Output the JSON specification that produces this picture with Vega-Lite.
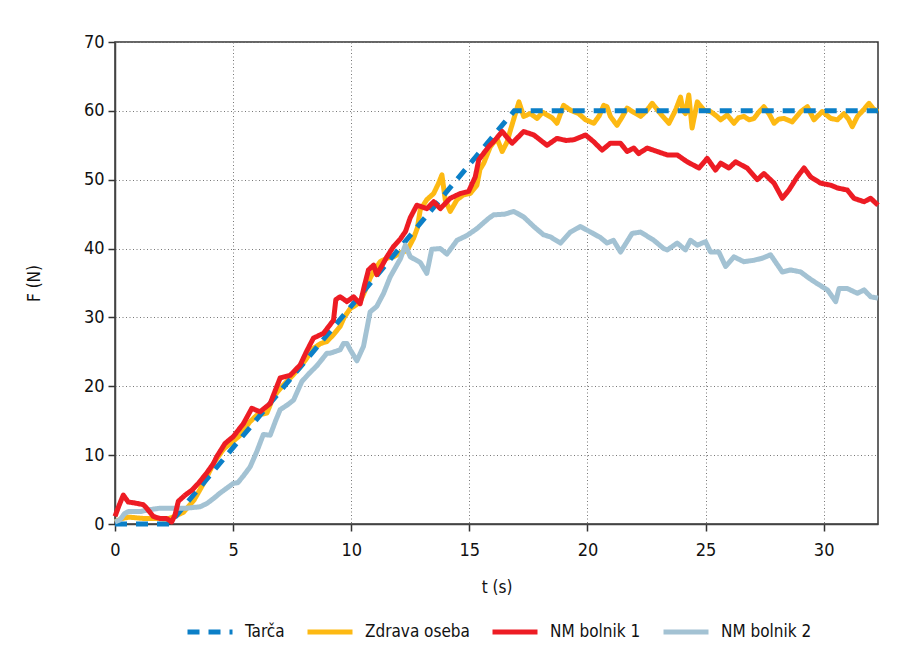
{
  "$schema": "https://vega.github.io/schema/vega-lite/v6.json",
  "width": 763,
  "height": 482,
  "autosize": {"type": "none"},
  "padding": {"left": 115, "top": 42, "right": 27, "bottom": 141},
  "background": "white",
  "config": {
    "font": "DejaVu Sans Condensed",
    "view": {"stroke": "#333333", "strokeWidth": 1.5},
    "axis": {
      "labelFont": "DejaVu Sans Condensed",
      "titleFont": "DejaVu Sans Condensed",
      "labelFontSize": 18,
      "titleFontSize": 17,
      "titleFontWeight": "normal",
      "labelColor": "#111111",
      "titleColor": "#111111",
      "tickColor": "#333333",
      "tickSize": 7,
      "tickWidth": 1.5,
      "domainColor": "#444444",
      "domainWidth": 1.5,
      "gridColor": "#777777",
      "gridDash": [1, 2.5],
      "gridWidth": 1,
      "labelFlush": false
    },
    "legend": {
      "labelFont": "DejaVu Sans Condensed",
      "labelFontSize": 17,
      "labelColor": "#111111"
    }
  },
  "data": {
    "values": [
      {"s": "Tarča", "t": 0, "F": 0}, {"s": "Tarča", "t": 2.3, "F": 0}, {"s": "Tarča", "t": 16.9, "F": 60}, {"s": "Tarča", "t": 32.3, "F": 60},

      {"s": "Zdrava oseba", "t": 0, "F": 0.3}, {"s": "Zdrava oseba", "t": 0.3, "F": 0.8}, {"s": "Zdrava oseba", "t": 0.6, "F": 1.0}, {"s": "Zdrava oseba", "t": 1.2, "F": 0.8}, {"s": "Zdrava oseba", "t": 1.8, "F": 0.8}, {"s": "Zdrava oseba", "t": 2.2, "F": 0.7}, {"s": "Zdrava oseba", "t": 2.45, "F": 1.0}, {"s": "Zdrava oseba", "t": 2.9, "F": 1.7}, {"s": "Zdrava oseba", "t": 3.35, "F": 3.5}, {"s": "Zdrava oseba", "t": 3.75, "F": 5.9}, {"s": "Zdrava oseba", "t": 4.17, "F": 8.8}, {"s": "Zdrava oseba", "t": 4.6, "F": 10.9}, {"s": "Zdrava oseba", "t": 5.0, "F": 12.0}, {"s": "Zdrava oseba", "t": 5.3, "F": 12.9}, {"s": "Zdrava oseba", "t": 5.7, "F": 14.8}, {"s": "Zdrava oseba", "t": 6.0, "F": 15.8}, {"s": "Zdrava oseba", "t": 6.43, "F": 16.1}, {"s": "Zdrava oseba", "t": 6.71, "F": 18.5}, {"s": "Zdrava oseba", "t": 7.13, "F": 20.2}, {"s": "Zdrava oseba", "t": 7.5, "F": 21.5}, {"s": "Zdrava oseba", "t": 7.84, "F": 22.8}, {"s": "Zdrava oseba", "t": 8.1, "F": 24.0}, {"s": "Zdrava oseba", "t": 8.4, "F": 25.5}, {"s": "Zdrava oseba", "t": 8.7, "F": 26.2}, {"s": "Zdrava oseba", "t": 8.97, "F": 26.5}, {"s": "Zdrava oseba", "t": 9.25, "F": 27.5}, {"s": "Zdrava oseba", "t": 9.53, "F": 28.7}, {"s": "Zdrava oseba", "t": 9.7, "F": 30.0}, {"s": "Zdrava oseba", "t": 9.96, "F": 31.3}, {"s": "Zdrava oseba", "t": 10.2, "F": 31.8}, {"s": "Zdrava oseba", "t": 10.38, "F": 32.3}, {"s": "Zdrava oseba", "t": 10.6, "F": 34.0}, {"s": "Zdrava oseba", "t": 10.8, "F": 35.7}, {"s": "Zdrava oseba", "t": 11.0, "F": 37.0}, {"s": "Zdrava oseba", "t": 11.23, "F": 38.1}, {"s": "Zdrava oseba", "t": 11.5, "F": 38.6}, {"s": "Zdrava oseba", "t": 11.79, "F": 38.8}, {"s": "Zdrava oseba", "t": 12.08, "F": 39.4}, {"s": "Zdrava oseba", "t": 12.36, "F": 39.7}, {"s": "Zdrava oseba", "t": 12.64, "F": 41.5}, {"s": "Zdrava oseba", "t": 12.8, "F": 43.0}, {"s": "Zdrava oseba", "t": 12.92, "F": 45.6}, {"s": "Zdrava oseba", "t": 13.2, "F": 47.1}, {"s": "Zdrava oseba", "t": 13.49, "F": 48.0}, {"s": "Zdrava oseba", "t": 13.7, "F": 49.5}, {"s": "Zdrava oseba", "t": 13.84, "F": 50.7}, {"s": "Zdrava oseba", "t": 13.98, "F": 47.1}, {"s": "Zdrava oseba", "t": 14.19, "F": 45.4}, {"s": "Zdrava oseba", "t": 14.48, "F": 47.1}, {"s": "Zdrava oseba", "t": 14.75, "F": 47.8}, {"s": "Zdrava oseba", "t": 15.04, "F": 48.0}, {"s": "Zdrava oseba", "t": 15.32, "F": 49.2}, {"s": "Zdrava oseba", "t": 15.45, "F": 51.5}, {"s": "Zdrava oseba", "t": 15.61, "F": 52.4}, {"s": "Zdrava oseba", "t": 15.89, "F": 54.8}, {"s": "Zdrava oseba", "t": 16.17, "F": 56.0}, {"s": "Zdrava oseba", "t": 16.39, "F": 54.1}, {"s": "Zdrava oseba", "t": 16.6, "F": 55.5}, {"s": "Zdrava oseba", "t": 16.74, "F": 57.2}, {"s": "Zdrava oseba", "t": 16.95, "F": 59.6}, {"s": "Zdrava oseba", "t": 17.1, "F": 61.3}, {"s": "Zdrava oseba", "t": 17.3, "F": 59.2}, {"s": "Zdrava oseba", "t": 17.58, "F": 59.6}, {"s": "Zdrava oseba", "t": 17.87, "F": 58.9}, {"s": "Zdrava oseba", "t": 18.1, "F": 59.8}, {"s": "Zdrava oseba", "t": 18.29, "F": 59.4}, {"s": "Zdrava oseba", "t": 18.5, "F": 59.0}, {"s": "Zdrava oseba", "t": 18.71, "F": 58.2}, {"s": "Zdrava oseba", "t": 18.85, "F": 59.5}, {"s": "Zdrava oseba", "t": 18.99, "F": 60.8}, {"s": "Zdrava oseba", "t": 19.28, "F": 60.1}, {"s": "Zdrava oseba", "t": 19.63, "F": 59.6}, {"s": "Zdrava oseba", "t": 19.92, "F": 58.7}, {"s": "Zdrava oseba", "t": 20.27, "F": 58.2}, {"s": "Zdrava oseba", "t": 20.5, "F": 59.3}, {"s": "Zdrava oseba", "t": 20.69, "F": 60.8}, {"s": "Zdrava oseba", "t": 20.83, "F": 60.6}, {"s": "Zdrava oseba", "t": 20.97, "F": 59.2}, {"s": "Zdrava oseba", "t": 21.25, "F": 57.9}, {"s": "Zdrava oseba", "t": 21.45, "F": 59.0}, {"s": "Zdrava oseba", "t": 21.68, "F": 60.4}, {"s": "Zdrava oseba", "t": 21.95, "F": 59.8}, {"s": "Zdrava oseba", "t": 22.25, "F": 59.2}, {"s": "Zdrava oseba", "t": 22.5, "F": 60.0}, {"s": "Zdrava oseba", "t": 22.74, "F": 61.1}, {"s": "Zdrava oseba", "t": 23.09, "F": 59.6}, {"s": "Zdrava oseba", "t": 23.45, "F": 58.2}, {"s": "Zdrava oseba", "t": 23.73, "F": 60.1}, {"s": "Zdrava oseba", "t": 23.94, "F": 62.0}, {"s": "Zdrava oseba", "t": 24.05, "F": 60.0}, {"s": "Zdrava oseba", "t": 24.15, "F": 59.6}, {"s": "Zdrava oseba", "t": 24.29, "F": 62.3}, {"s": "Zdrava oseba", "t": 24.43, "F": 57.5}, {"s": "Zdrava oseba", "t": 24.65, "F": 61.3}, {"s": "Zdrava oseba", "t": 24.93, "F": 60.1}, {"s": "Zdrava oseba", "t": 25.21, "F": 59.9}, {"s": "Zdrava oseba", "t": 25.45, "F": 59.3}, {"s": "Zdrava oseba", "t": 25.64, "F": 58.7}, {"s": "Zdrava oseba", "t": 25.92, "F": 59.4}, {"s": "Zdrava oseba", "t": 26.2, "F": 58.2}, {"s": "Zdrava oseba", "t": 26.4, "F": 59.0}, {"s": "Zdrava oseba", "t": 26.62, "F": 59.2}, {"s": "Zdrava oseba", "t": 26.85, "F": 58.7}, {"s": "Zdrava oseba", "t": 27.05, "F": 58.9}, {"s": "Zdrava oseba", "t": 27.25, "F": 59.8}, {"s": "Zdrava oseba", "t": 27.47, "F": 60.6}, {"s": "Zdrava oseba", "t": 27.7, "F": 59.5}, {"s": "Zdrava oseba", "t": 27.9, "F": 58.2}, {"s": "Zdrava oseba", "t": 28.1, "F": 58.8}, {"s": "Zdrava oseba", "t": 28.32, "F": 58.9}, {"s": "Zdrava oseba", "t": 28.67, "F": 58.4}, {"s": "Zdrava oseba", "t": 29.03, "F": 59.9}, {"s": "Zdrava oseba", "t": 29.31, "F": 60.6}, {"s": "Zdrava oseba", "t": 29.59, "F": 58.7}, {"s": "Zdrava oseba", "t": 29.94, "F": 59.9}, {"s": "Zdrava oseba", "t": 30.3, "F": 58.9}, {"s": "Zdrava oseba", "t": 30.58, "F": 58.7}, {"s": "Zdrava oseba", "t": 30.86, "F": 59.6}, {"s": "Zdrava oseba", "t": 31.05, "F": 58.8}, {"s": "Zdrava oseba", "t": 31.21, "F": 57.7}, {"s": "Zdrava oseba", "t": 31.43, "F": 59.2}, {"s": "Zdrava oseba", "t": 31.7, "F": 60.2}, {"s": "Zdrava oseba", "t": 31.92, "F": 61.1}, {"s": "Zdrava oseba", "t": 32.1, "F": 60.3}, {"s": "Zdrava oseba", "t": 32.3, "F": 59.9},

      {"s": "NM bolnik 1", "t": 0, "F": 1.1}, {"s": "NM bolnik 1", "t": 0.15, "F": 2.5}, {"s": "NM bolnik 1", "t": 0.35, "F": 4.2}, {"s": "NM bolnik 1", "t": 0.56, "F": 3.2}, {"s": "NM bolnik 1", "t": 0.75, "F": 3.1}, {"s": "NM bolnik 1", "t": 0.92, "F": 3.0}, {"s": "NM bolnik 1", "t": 1.2, "F": 2.8}, {"s": "NM bolnik 1", "t": 1.34, "F": 2.3}, {"s": "NM bolnik 1", "t": 1.62, "F": 1.1}, {"s": "NM bolnik 1", "t": 1.9, "F": 0.8}, {"s": "NM bolnik 1", "t": 2.19, "F": 0.8}, {"s": "NM bolnik 1", "t": 2.4, "F": 0.3}, {"s": "NM bolnik 1", "t": 2.54, "F": 1.3}, {"s": "NM bolnik 1", "t": 2.68, "F": 3.3}, {"s": "NM bolnik 1", "t": 2.97, "F": 4.2}, {"s": "NM bolnik 1", "t": 3.25, "F": 4.9}, {"s": "NM bolnik 1", "t": 3.53, "F": 5.9}, {"s": "NM bolnik 1", "t": 3.88, "F": 7.4}, {"s": "NM bolnik 1", "t": 4.17, "F": 8.8}, {"s": "NM bolnik 1", "t": 4.31, "F": 9.8}, {"s": "NM bolnik 1", "t": 4.66, "F": 11.7}, {"s": "NM bolnik 1", "t": 5.01, "F": 12.7}, {"s": "NM bolnik 1", "t": 5.44, "F": 14.6}, {"s": "NM bolnik 1", "t": 5.79, "F": 16.8}, {"s": "NM bolnik 1", "t": 6.14, "F": 16.3}, {"s": "NM bolnik 1", "t": 6.57, "F": 17.5}, {"s": "NM bolnik 1", "t": 6.99, "F": 21.2}, {"s": "NM bolnik 1", "t": 7.42, "F": 21.6}, {"s": "NM bolnik 1", "t": 7.84, "F": 23.1}, {"s": "NM bolnik 1", "t": 8.1, "F": 25.0}, {"s": "NM bolnik 1", "t": 8.4, "F": 27.0}, {"s": "NM bolnik 1", "t": 8.83, "F": 27.7}, {"s": "NM bolnik 1", "t": 9.25, "F": 29.6}, {"s": "NM bolnik 1", "t": 9.35, "F": 32.6}, {"s": "NM bolnik 1", "t": 9.53, "F": 33.0}, {"s": "NM bolnik 1", "t": 9.82, "F": 32.3}, {"s": "NM bolnik 1", "t": 10.1, "F": 33.0}, {"s": "NM bolnik 1", "t": 10.38, "F": 32.0}, {"s": "NM bolnik 1", "t": 10.55, "F": 34.5}, {"s": "NM bolnik 1", "t": 10.73, "F": 36.9}, {"s": "NM bolnik 1", "t": 10.95, "F": 37.6}, {"s": "NM bolnik 1", "t": 11.08, "F": 36.2}, {"s": "NM bolnik 1", "t": 11.3, "F": 37.5}, {"s": "NM bolnik 1", "t": 11.51, "F": 38.8}, {"s": "NM bolnik 1", "t": 11.79, "F": 40.3}, {"s": "NM bolnik 1", "t": 12.08, "F": 41.4}, {"s": "NM bolnik 1", "t": 12.3, "F": 42.5}, {"s": "NM bolnik 1", "t": 12.5, "F": 44.5}, {"s": "NM bolnik 1", "t": 12.78, "F": 46.3}, {"s": "NM bolnik 1", "t": 13.2, "F": 45.8}, {"s": "NM bolnik 1", "t": 13.49, "F": 46.8}, {"s": "NM bolnik 1", "t": 13.77, "F": 45.8}, {"s": "NM bolnik 1", "t": 14.19, "F": 47.3}, {"s": "NM bolnik 1", "t": 14.62, "F": 48.0}, {"s": "NM bolnik 1", "t": 14.97, "F": 48.3}, {"s": "NM bolnik 1", "t": 15.25, "F": 50.4}, {"s": "NM bolnik 1", "t": 15.4, "F": 52.9}, {"s": "NM bolnik 1", "t": 15.82, "F": 54.8}, {"s": "NM bolnik 1", "t": 16.1, "F": 55.8}, {"s": "NM bolnik 1", "t": 16.39, "F": 57.0}, {"s": "NM bolnik 1", "t": 16.81, "F": 55.3}, {"s": "NM bolnik 1", "t": 17.3, "F": 57.0}, {"s": "NM bolnik 1", "t": 17.73, "F": 56.5}, {"s": "NM bolnik 1", "t": 18.29, "F": 55.0}, {"s": "NM bolnik 1", "t": 18.71, "F": 56.0}, {"s": "NM bolnik 1", "t": 19.1, "F": 55.7}, {"s": "NM bolnik 1", "t": 19.42, "F": 55.8}, {"s": "NM bolnik 1", "t": 19.92, "F": 56.5}, {"s": "NM bolnik 1", "t": 20.27, "F": 55.5}, {"s": "NM bolnik 1", "t": 20.62, "F": 54.3}, {"s": "NM bolnik 1", "t": 20.97, "F": 55.3}, {"s": "NM bolnik 1", "t": 21.4, "F": 55.3}, {"s": "NM bolnik 1", "t": 21.68, "F": 54.1}, {"s": "NM bolnik 1", "t": 21.96, "F": 54.6}, {"s": "NM bolnik 1", "t": 22.17, "F": 53.8}, {"s": "NM bolnik 1", "t": 22.53, "F": 54.6}, {"s": "NM bolnik 1", "t": 22.95, "F": 54.1}, {"s": "NM bolnik 1", "t": 23.38, "F": 53.6}, {"s": "NM bolnik 1", "t": 23.8, "F": 53.6}, {"s": "NM bolnik 1", "t": 24.22, "F": 52.6}, {"s": "NM bolnik 1", "t": 24.72, "F": 51.7}, {"s": "NM bolnik 1", "t": 25.07, "F": 53.1}, {"s": "NM bolnik 1", "t": 25.42, "F": 51.4}, {"s": "NM bolnik 1", "t": 25.64, "F": 52.4}, {"s": "NM bolnik 1", "t": 25.99, "F": 51.7}, {"s": "NM bolnik 1", "t": 26.27, "F": 52.6}, {"s": "NM bolnik 1", "t": 26.76, "F": 51.7}, {"s": "NM bolnik 1", "t": 27.19, "F": 50.0}, {"s": "NM bolnik 1", "t": 27.47, "F": 50.9}, {"s": "NM bolnik 1", "t": 27.9, "F": 49.5}, {"s": "NM bolnik 1", "t": 28.25, "F": 47.3}, {"s": "NM bolnik 1", "t": 28.53, "F": 48.5}, {"s": "NM bolnik 1", "t": 28.88, "F": 50.4}, {"s": "NM bolnik 1", "t": 29.17, "F": 51.7}, {"s": "NM bolnik 1", "t": 29.45, "F": 50.4}, {"s": "NM bolnik 1", "t": 29.87, "F": 49.5}, {"s": "NM bolnik 1", "t": 30.3, "F": 49.2}, {"s": "NM bolnik 1", "t": 30.58, "F": 48.8}, {"s": "NM bolnik 1", "t": 31.0, "F": 48.5}, {"s": "NM bolnik 1", "t": 31.28, "F": 47.3}, {"s": "NM bolnik 1", "t": 31.71, "F": 46.8}, {"s": "NM bolnik 1", "t": 31.99, "F": 47.3}, {"s": "NM bolnik 1", "t": 32.3, "F": 46.3},

      {"s": "NM bolnik 2", "t": 0, "F": 0.3}, {"s": "NM bolnik 2", "t": 0.21, "F": 0.6}, {"s": "NM bolnik 2", "t": 0.4, "F": 1.5}, {"s": "NM bolnik 2", "t": 0.56, "F": 1.8}, {"s": "NM bolnik 2", "t": 1.06, "F": 1.8}, {"s": "NM bolnik 2", "t": 1.5, "F": 2.1}, {"s": "NM bolnik 2", "t": 1.91, "F": 2.3}, {"s": "NM bolnik 2", "t": 2.5, "F": 2.3}, {"s": "NM bolnik 2", "t": 3.04, "F": 2.3}, {"s": "NM bolnik 2", "t": 3.6, "F": 2.5}, {"s": "NM bolnik 2", "t": 3.9, "F": 3.0}, {"s": "NM bolnik 2", "t": 4.17, "F": 3.7}, {"s": "NM bolnik 2", "t": 4.45, "F": 4.5}, {"s": "NM bolnik 2", "t": 4.73, "F": 5.2}, {"s": "NM bolnik 2", "t": 5.01, "F": 5.9}, {"s": "NM bolnik 2", "t": 5.2, "F": 6.0}, {"s": "NM bolnik 2", "t": 5.44, "F": 7.0}, {"s": "NM bolnik 2", "t": 5.72, "F": 8.3}, {"s": "NM bolnik 2", "t": 6.0, "F": 10.5}, {"s": "NM bolnik 2", "t": 6.28, "F": 13.0}, {"s": "NM bolnik 2", "t": 6.57, "F": 12.9}, {"s": "NM bolnik 2", "t": 6.8, "F": 15.0}, {"s": "NM bolnik 2", "t": 6.99, "F": 16.6}, {"s": "NM bolnik 2", "t": 7.3, "F": 17.3}, {"s": "NM bolnik 2", "t": 7.56, "F": 18.0}, {"s": "NM bolnik 2", "t": 7.91, "F": 20.7}, {"s": "NM bolnik 2", "t": 8.2, "F": 21.8}, {"s": "NM bolnik 2", "t": 8.55, "F": 23.0}, {"s": "NM bolnik 2", "t": 8.97, "F": 24.8}, {"s": "NM bolnik 2", "t": 9.11, "F": 24.8}, {"s": "NM bolnik 2", "t": 9.53, "F": 25.3}, {"s": "NM bolnik 2", "t": 9.67, "F": 26.2}, {"s": "NM bolnik 2", "t": 9.82, "F": 26.2}, {"s": "NM bolnik 2", "t": 9.96, "F": 25.3}, {"s": "NM bolnik 2", "t": 10.24, "F": 23.7}, {"s": "NM bolnik 2", "t": 10.52, "F": 25.8}, {"s": "NM bolnik 2", "t": 10.8, "F": 30.8}, {"s": "NM bolnik 2", "t": 11.08, "F": 31.6}, {"s": "NM bolnik 2", "t": 11.37, "F": 33.5}, {"s": "NM bolnik 2", "t": 11.65, "F": 35.9}, {"s": "NM bolnik 2", "t": 12.08, "F": 38.5}, {"s": "NM bolnik 2", "t": 12.29, "F": 40.5}, {"s": "NM bolnik 2", "t": 12.5, "F": 38.8}, {"s": "NM bolnik 2", "t": 12.92, "F": 38.0}, {"s": "NM bolnik 2", "t": 13.2, "F": 36.4}, {"s": "NM bolnik 2", "t": 13.41, "F": 39.9}, {"s": "NM bolnik 2", "t": 13.77, "F": 40.0}, {"s": "NM bolnik 2", "t": 14.05, "F": 39.2}, {"s": "NM bolnik 2", "t": 14.48, "F": 41.2}, {"s": "NM bolnik 2", "t": 14.9, "F": 41.9}, {"s": "NM bolnik 2", "t": 15.32, "F": 42.9}, {"s": "NM bolnik 2", "t": 15.82, "F": 44.4}, {"s": "NM bolnik 2", "t": 16.03, "F": 44.9}, {"s": "NM bolnik 2", "t": 16.5, "F": 45.0}, {"s": "NM bolnik 2", "t": 16.88, "F": 45.4}, {"s": "NM bolnik 2", "t": 17.3, "F": 44.6}, {"s": "NM bolnik 2", "t": 17.73, "F": 43.2}, {"s": "NM bolnik 2", "t": 18.14, "F": 42.0}, {"s": "NM bolnik 2", "t": 18.43, "F": 41.7}, {"s": "NM bolnik 2", "t": 18.86, "F": 40.8}, {"s": "NM bolnik 2", "t": 19.28, "F": 42.4}, {"s": "NM bolnik 2", "t": 19.7, "F": 43.2}, {"s": "NM bolnik 2", "t": 20.13, "F": 42.4}, {"s": "NM bolnik 2", "t": 20.55, "F": 41.6}, {"s": "NM bolnik 2", "t": 20.83, "F": 40.8}, {"s": "NM bolnik 2", "t": 21.1, "F": 41.2}, {"s": "NM bolnik 2", "t": 21.4, "F": 39.5}, {"s": "NM bolnik 2", "t": 21.89, "F": 42.2}, {"s": "NM bolnik 2", "t": 22.25, "F": 42.4}, {"s": "NM bolnik 2", "t": 22.81, "F": 41.2}, {"s": "NM bolnik 2", "t": 23.23, "F": 40.0}, {"s": "NM bolnik 2", "t": 23.38, "F": 39.8}, {"s": "NM bolnik 2", "t": 23.8, "F": 40.8}, {"s": "NM bolnik 2", "t": 24.15, "F": 39.8}, {"s": "NM bolnik 2", "t": 24.36, "F": 41.2}, {"s": "NM bolnik 2", "t": 24.65, "F": 40.5}, {"s": "NM bolnik 2", "t": 25.0, "F": 41.0}, {"s": "NM bolnik 2", "t": 25.21, "F": 39.5}, {"s": "NM bolnik 2", "t": 25.56, "F": 39.5}, {"s": "NM bolnik 2", "t": 25.85, "F": 37.4}, {"s": "NM bolnik 2", "t": 26.2, "F": 38.8}, {"s": "NM bolnik 2", "t": 26.62, "F": 38.1}, {"s": "NM bolnik 2", "t": 27.05, "F": 38.3}, {"s": "NM bolnik 2", "t": 27.4, "F": 38.6}, {"s": "NM bolnik 2", "t": 27.75, "F": 39.1}, {"s": "NM bolnik 2", "t": 28.25, "F": 36.6}, {"s": "NM bolnik 2", "t": 28.6, "F": 36.9}, {"s": "NM bolnik 2", "t": 29.03, "F": 36.6}, {"s": "NM bolnik 2", "t": 29.38, "F": 35.7}, {"s": "NM bolnik 2", "t": 29.73, "F": 34.9}, {"s": "NM bolnik 2", "t": 30.16, "F": 34.0}, {"s": "NM bolnik 2", "t": 30.51, "F": 32.3}, {"s": "NM bolnik 2", "t": 30.65, "F": 34.2}, {"s": "NM bolnik 2", "t": 31.0, "F": 34.2}, {"s": "NM bolnik 2", "t": 31.43, "F": 33.5}, {"s": "NM bolnik 2", "t": 31.71, "F": 34.0}, {"s": "NM bolnik 2", "t": 31.99, "F": 33.0}, {"s": "NM bolnik 2", "t": 32.3, "F": 32.8}
    ]
  },
  "encoding": {
    "x": {
      "field": "t", "type": "quantitative",
      "scale": {"domain": [0, 32.3], "nice": false, "zero": false},
      "axis": {"title": "t (s)", "values": [0, 5, 10, 15, 20, 25, 30], "labelPadding": 10, "titlePadding": 20, "grid": true, "labelFlush": false}
    },
    "y": {
      "field": "F", "type": "quantitative",
      "scale": {"domain": [0, 70], "nice": false},
      "axis": {"title": "F (N)", "values": [0, 10, 20, 30, 40, 50, 60, 70], "labelPadding": 4, "titlePadding": 40, "grid": true}
    },
    "color": {
      "field": "s", "type": "nominal",
      "scale": {"domain": ["Tarča", "Zdrava oseba", "NM bolnik 1", "NM bolnik 2"], "range": ["#0b7fc7", "#fdb913", "#ed1c24", "#a3c2d3"]},
      "legend": {
        "title": null, "orient": "none", "direction": "horizontal", "legendX": 70, "legendY": 565,
        "symbolType": "stroke", "symbolSize": 2025, "symbolStrokeWidth": 5,
        "labelOffset": 10, "columnPadding": 12, "labelFontSize": 17
      }
    },
    "strokeDash": {
      "field": "s", "type": "nominal",
      "scale": {"domain": ["Tarča", "Zdrava oseba", "NM bolnik 1", "NM bolnik 2"], "range": [[12, 9], [1, 0], [1, 0], [1, 0]]},
      "legend": {
        "title": null, "orient": "none", "direction": "horizontal", "legendX": 70, "legendY": 565,
        "symbolType": "stroke", "symbolSize": 2025, "symbolStrokeWidth": 5,
        "labelOffset": 10, "columnPadding": 12, "labelFontSize": 17
      }
    }
  },
  "layer": [
    {"transform": [{"filter": "datum.s === 'Zdrava oseba'"}], "mark": {"type": "line", "strokeWidth": 5, "strokeJoin": "round"}},
    {"transform": [{"filter": "datum.s === 'Tarča'"}], "mark": {"type": "line", "strokeWidth": 5}},
    {"transform": [{"filter": "datum.s === 'NM bolnik 2'"}], "mark": {"type": "line", "strokeWidth": 5, "strokeJoin": "round"}},
    {"transform": [{"filter": "datum.s === 'NM bolnik 1'"}], "mark": {"type": "line", "strokeWidth": 5, "strokeJoin": "round"}}
  ]
}
